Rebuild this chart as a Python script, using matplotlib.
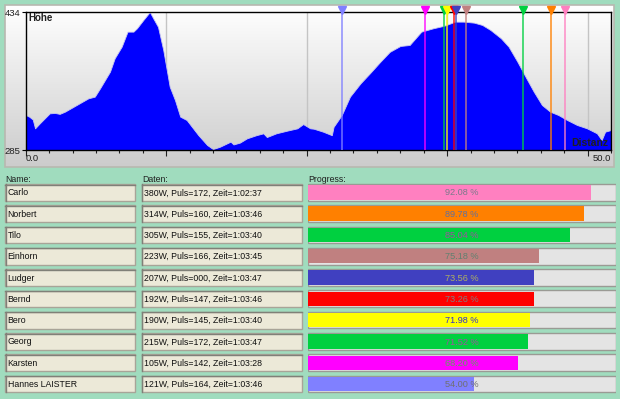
import numpy as np
import matplotlib
matplotlib.use("Agg")
import matplotlib.pyplot as plt
from matplotlib.patches import Rectangle
from matplotlib.colors import LinearSegmentedColormap

plt.rcParams['font.family'] = ['Liberation Sans', 'DejaVu Sans']

# ---------------- data ----------------
dist_km = [0, 0.3, 0.6, 0.8, 1.2, 2.05, 2.5, 2.9, 3.35, 4.35, 5.35, 5.9, 6.35, 7.2, 7.6,
           8.2, 8.7, 9.2, 9.5, 10.05, 10.6, 10.9, 11.3, 11.75, 12.3, 12.75, 13.2, 13.75,
           14.2, 14.75, 15.5, 16.0, 16.6, 17.5, 17.75, 18.3, 18.9, 19.7, 20.3, 20.6,
           21.4, 22.3, 23.2, 23.7, 24.3, 24.6, 25.4, 26.15, 26.3, 27.0, 27.7, 28.6,
           29.4, 30.3, 31.1, 32.0, 32.8, 33.3, 33.8, 34.8, 35.7, 36.7, 37.4, 38.3,
           39.0, 39.7, 40.6, 41.25, 42.0, 42.7, 43.4, 44.1, 44.8, 45.5, 46.25, 47.1,
           47.95, 48.8, 49.2, 49.5, 50.0]
hoehe_m = [322.8, 321, 318, 308.4, 313.8, 324.6, 325, 324, 326.4, 333.6, 340.8, 342.6,
           351.6, 369.6, 384, 396.6, 412.8, 412.8, 416.4, 425.4, 434, 427, 418, 393,
           353.4, 339, 321, 317.4, 310, 301, 290.4, 286, 288.6, 294, 291, 293, 297.6,
           301, 303, 299, 303, 305.8, 308.4, 313, 308.4, 308, 304.8, 301, 310, 322.8,
           342.6, 357, 367.8, 380.4, 391, 397.3, 398.4, 405.6, 412.8, 416.4, 419,
           423.6, 423.6, 422.5, 420, 414.6, 405.6, 396.6, 380.4, 364, 348, 333.6,
           326.4, 322.8, 317.4, 312, 308.4, 303, 295.8, 304.8, 306.6]
y_min, y_max = 285, 434
x_max = 50.0

names = ["Carlo", "Norbert", "Tilo", "Einhorn", "Ludger", "Bernd", "Bero",
         "Georg", "Karsten", "Hannes LAISTER"]
daten = ["380W, Puls=172, Zeit=1:02:37",
         "314W, Puls=160, Zeit=1:03:46",
         "305W, Puls=155, Zeit=1:03:40",
         "223W, Puls=166, Zeit=1:03:45",
         "207W, Puls=000, Zeit=1:03:47",
         "192W, Puls=147, Zeit=1:03:46",
         "190W, Puls=145, Zeit=1:03:40",
         "215W, Puls=172, Zeit=1:03:47",
         "105W, Puls=142, Zeit=1:03:28",
         "121W, Puls=164, Zeit=1:03:46"]
progress = [92.08, 89.78, 85.04, 75.18, 73.56, 73.26, 71.98, 71.52, 68.20, 54.00]

colors = ['#ff80c0', '#ff8000', '#00d040', '#c08080', '#4040c0',
          '#ff0000', '#ffff00', '#00d040', '#ff00ff', '#8080ff']
text_colors = ['#7a7a8a', '#6070a0', '#a050a0', '#608070', '#b0b060',
               '#808080', '#3030d0', '#a050a0', '#60a060', '#707070']

# ---------------- figure ----------------
W, H = 620, 399
fig = plt.figure(figsize=(6.2, 3.99), dpi=100)
fig.patch.set_facecolor('#a0dcbe')


def px_axes(x0, y0, x1, y1, **kw):
    return fig.add_axes([x0 / W, 1 - y1 / H, (x1 - x0) / W, (y1 - y0) / H], **kw)


bg = px_axes(0, 0, W, H)
bg.set_xlim(0, W)
bg.set_ylim(H, 0)
bg.axis('off')
bg.patch.set_alpha(0)

# chart panel with gradient
grad = np.linspace(0, 1, 200).reshape(-1, 1)
cmap_panel = LinearSegmentedColormap.from_list('p', ['#ffffff', '#cccccc'])
bg.imshow(grad, extent=(5, 614, 167, 5), cmap=cmap_panel, aspect='auto', zorder=0)
bg.add_patch(Rectangle((5, 5), 609, 162, fill=False, edgecolor='#b8b8b0', lw=1.2, zorder=1))

# headers
bg.text(5, 179, "Name:", fontsize=6.3, va='center', ha='left', color='#202020')
bg.text(142, 179, "Daten:", fontsize=6.3, va='center', ha='left', color='#202020')
bg.text(308, 179, "Progress:", fontsize=6.3, va='center', ha='left', color='#202020')

row0, pitch, bh = 184.0, 21.3, 16.7
for i, (n, d) in enumerate(zip(names, daten)):
    y = row0 + i * pitch
    for (x0, x1, t) in [(5, 135, n), (141.7, 301.7, d)]:
        bg.add_patch(Rectangle((x0, y), x1 - x0, bh, facecolor='#ece9d8',
                               edgecolor='#a8a498', lw=1.0, zorder=2))
        bg.plot([x0, x1], [y + 0.5, y + 0.5], color='#808078', lw=1.0, zorder=3)
        bg.plot([x0 + 0.5, x0 + 0.5], [y, y + bh], color='#808078', lw=1.0, zorder=3)
        bg.text(x0 + 2.5, y + bh / 2 + 0.5, t, fontsize=6.3, va='center', ha='left',
                color='#101010', zorder=4)

# ---------------- elevation plot ----------------
ax = px_axes(25.7, 12, 611, 150)
ax.patch.set_alpha(0)
ax.set_xlim(0, x_max)
ax.set_ylim(y_min, y_max)

for g in [12, 24, 36, 48]:
    ax.axvline(g, color='#c4c4c4', lw=1.0, zorder=1)

ax.fill_between(dist_km, hoehe_m, y_min, color='#0000ff', lw=0.6,
                edgecolor='#c8c8f0', zorder=2)

for p, c in sorted(zip(progress, colors), key=lambda t: t[0]):
    xp = p / 100 * x_max
    ax.axvline(xp, color=c, lw=1.4, alpha=0.7, zorder=3)
    ax.plot([xp], [y_max + 2.4], marker='v', ms=6, color=c, mec=c,
            clip_on=False, zorder=5)

for s in ax.spines.values():
    s.set_color('black')
    s.set_linewidth(1.0)

ax.set_xticks([0, 12, 24, 36, 48])
ax.set_xticks(np.arange(0, 51, 2), minor=True)
ax.tick_params(axis='x', which='major', length=4.5, width=0.8, labelbottom=False,
               color='#202020')
ax.tick_params(axis='x', which='minor', length=2.5, width=0.8, color='#202020')
ax.set_yticks([y_min, y_max])
ax.set_yticklabels([str(y_min), str(y_max)])
ax.tick_params(axis='y', length=3, width=0.8, pad=0.5, labelsize=6.8,
               labelcolor='#202020')

ax.text(0.004, 0.953, "Höhe", transform=ax.transAxes, fontsize=7, fontweight='bold',
        va='center', ha='left', color='#202020', zorder=6)
ax.text(0.995, 0.054, "Distanz", transform=ax.transAxes, fontsize=7.5, fontweight='bold',
        va='center', ha='right', color='#202020', zorder=6)
ax.text(0.0, -0.065, "0.0", transform=ax.transAxes, fontsize=6.8, va='center',
        ha='left', color='#202020')
ax.text(1.0, -0.065, "50.0", transform=ax.transAxes, fontsize=6.8, va='center',
        ha='right', color='#202020')

# ---------------- progress bars ----------------
top = row0 - (pitch - bh) / 2
pax = px_axes(308.3, top, 615.7, top + pitch * len(names))
pax.set_xlim(0, 100)
pax.set_ylim(len(names) - 0.5, -0.5)
pax.axis('off')
pax.patch.set_alpha(0)
rows = np.arange(len(names))
hfrac = bh / pitch
pax.barh(rows, [100] * len(names), height=hfrac, color='#e4e4e4',
         edgecolor='#9a9a94', lw=1.0, zorder=1)
pax.barh(rows, progress, height=hfrac * 0.86, color=colors, lw=0, zorder=2)
for i, (p, tc) in enumerate(zip(progress, text_colors)):
    pax.text(50, i + 0.03, f"{p:.2f} %", fontsize=6.6, ha='center', va='center',
             color=tc, zorder=3)

fig.savefig("out.png", dpi=100, facecolor=fig.get_facecolor())
